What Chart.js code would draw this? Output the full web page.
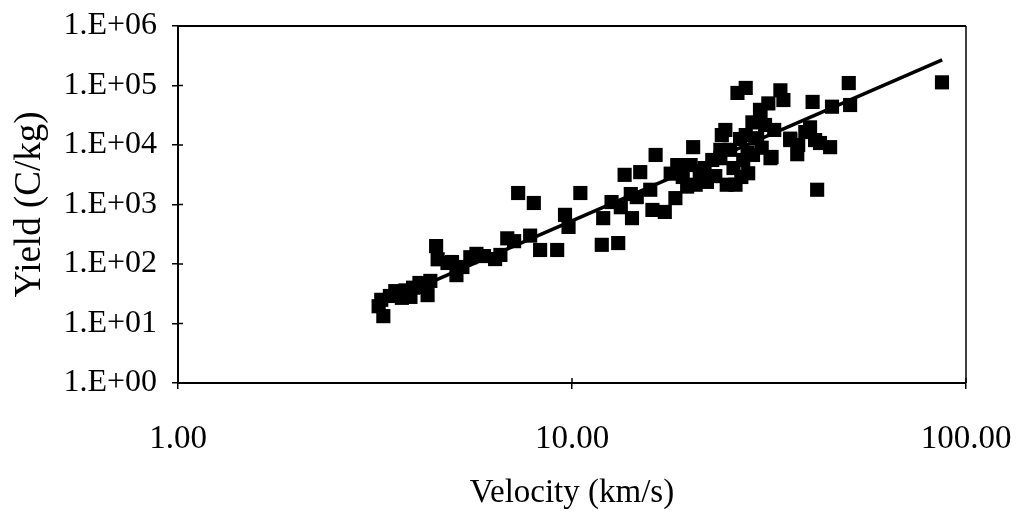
<!DOCTYPE html>
<html>
<head>
<meta charset="utf-8">
<script src="https://cdn.jsdelivr.net/npm/chart.js@4/dist/chart.umd.min.js"></script>
<style>
  html, body { margin: 0; padding: 0; background: #fff; }
  #wrap { width: 1016px; height: 517px; }
</style>
</head>
<body>
<div id="wrap"><canvas id="c" width="1016" height="517"></canvas></div>
<script>
// Impact velocity (km/s) and charge yield (C/kg) of the measured particles
const velocity = [
  3.23, 3.32, 3.28, 3.45, 3.56, 3.70, 3.78, 3.89, 3.95, 4.10,
  4.25, 4.30, 4.37, 4.52, 4.56, 4.83, 4.96, 5.09, 5.27, 5.52,
  5.72, 5.98, 6.38, 6.58, 7.13, 7.30, 7.83, 8.0, 8.30, 9.17,
  9.6, 9.8, 10.5, 11.9, 12.0, 12.6, 13.1, 13.6, 14.2, 14.1,
  14.9, 14.6, 15.8, 16.0, 16.3, 17.2, 17.8, 18.3, 18.8, 19.6,
  20.0, 20.3, 20.6, 21.1, 21.7, 22.0, 22.7, 23.1, 23.8, 24.0,
  24.5, 24.7, 25.2, 25.7, 26.0, 26.3, 26.7, 27.2, 27.6, 27.6,
  28.0, 28.7, 28.8, 29.5, 30.0, 30.3, 30.9, 31.5, 32.1, 32.6,
  33.8, 34.4, 35.8, 37.5, 39.1, 40.2, 40.8, 41.4, 41.9, 45.2,
  45.7, 50.4, 50.8, 86.9, 18.5, 19.1, 23.8, 27.9, 13.3, 6.85,
  26.9, 31.9, 37.3, 35.8, 30.1, 42.6
];
const yieldValues = [
  19.5, 13.3, 25, 29, 35, 27, 36, 28, 40, 48,
  41, 30, 52, 200, 120, 104, 108, 65, 89, 130,
  148, 136, 121, 142, 242, 1560, 300, 1060, 172, 172,
  670, 420, 1560, 210, 590, 1100, 225, 3150, 590, 1500,
  3500, 1330, 1770, 810, 6800, 750, 3300, 1280, 3500, 2000,
  4600, 9200, 2150, 3150, 4100, 2400, 5600, 3000, 6000, 14700,
  17900, 2150, 8300, 4100, 2150, 75000, 12600, 5600, 91000, 14700,
  3350, 24000, 6800, 13000, 39000, 9000, 21700, 50000, 6300, 17900,
  83000, 57000, 12100, 10000, 16500, 19800, 53000, 12100, 1770, 9200,
  44000, 110000, 47000, 113000, 4600, 2900, 8300, 7500, 900, 270,
  2900, 6000, 7000, 12800, 33000, 10800
];
// Power-law fit drawn as a straight line between its end points
const fitVelocity = [3.2, 87];
const fitYield = [20, 270000];

const xTicks = [1, 10, 100];
const yTicks = [1, 10, 100, 1000, 10000, 100000, 1000000];
const yTickLabels = ['1.E+00', '1.E+01', '1.E+02', '1.E+03', '1.E+04', '1.E+05', '1.E+06'];
const xTickLabels = ['1.00', '10.00', '100.00'];

const points = velocity.map((v, i) => ({ x: v, y: yieldValues[i] }));
const fitLine = fitVelocity.map((v, i) => ({ x: v, y: fitYield[i] }));

const serif = '"Liberation Serif", "Times New Roman", serif';

// Frame around the plot area plus the inward half of every tick mark
const framePlugin = {
  id: 'frame',
  afterDatasetsDraw(chart) {
    const { ctx, chartArea: a, scales } = chart;
    ctx.save();
    ctx.strokeStyle = '#000';
    ctx.lineWidth = 2;
    ctx.beginPath();
    ctx.moveTo(a.left, a.top);
    ctx.lineTo(a.right, a.top);
    ctx.stroke();
    ctx.lineWidth = 1.5;
    ctx.beginPath();
    ctx.moveTo(a.right, a.top);
    ctx.lineTo(a.right, a.bottom);
    ctx.stroke();
    ctx.lineWidth = 1.5;
    yTicks.forEach(v => {
      const py = scales.y.getPixelForValue(v);
      ctx.beginPath();
      ctx.moveTo(a.left, py);
      ctx.lineTo(a.left + 5, py);
      ctx.stroke();
    });
    xTicks.forEach(v => {
      const px = scales.x.getPixelForValue(v);
      ctx.beginPath();
      ctx.moveTo(px, a.bottom);
      ctx.lineTo(px, a.bottom - 5);
      ctx.stroke();
    });
    ctx.restore();
  }
};

new Chart(document.getElementById('c'), {
  type: 'scatter',
  data: {
    datasets: [
      {
        label: 'Fit',
        data: fitLine,
        showLine: true,
        borderColor: '#000',
        borderWidth: 3.5,
        pointRadius: 0,
        pointHoverRadius: 0,
        order: 0
      },
      {
        label: 'Yield',
        data: points,
        pointStyle: 'rect',
        pointRadius: 10,
        pointHoverRadius: 10,
        backgroundColor: '#000',
        borderColor: '#000',
        borderWidth: 0,
        order: 1
      }
    ]
  },
  options: {
    responsive: false,
    animation: false,
    events: [],
    layout: { padding: { top: 26, right: 50, left: 0, bottom: 0 } },
    plugins: { legend: { display: false }, tooltip: { enabled: false } },
    scales: {
      x: {
        type: 'logarithmic',
        min: 1,
        max: 100,
        afterBuildTicks(scale) { scale.ticks = xTicks.map(v => ({ value: v })); },
        afterFit(scale) { scale.height = 134; scale.paddingLeft = 0; scale.paddingRight = 0; },
        ticks: {
          autoSkip: false,
          maxRotation: 0,
          color: '#000',
          padding: 31,
          font: { family: serif, size: 33 },
          callback: (v) => { const i = xTicks.indexOf(v); return i >= 0 ? xTickLabels[i] : ''; }
        },
        grid: { drawOnChartArea: false, drawTicks: true, tickLength: 6, color: '#000', lineWidth: 1.5 },
        border: { display: true, color: '#000', width: 2 },
        title: {
          display: true,
          text: 'Velocity (km/s)',
          color: '#000',
          font: { family: serif, size: 33 },
          padding: { top: 0, bottom: 4 }
        }
      },
      y: {
        type: 'logarithmic',
        min: 1,
        max: 1000000,
        afterBuildTicks(scale) { scale.ticks = yTicks.map(v => ({ value: v })); },
        afterFit(scale) { scale.width = 178; scale.paddingTop = 0; scale.paddingBottom = 0; },
        ticks: {
          autoSkip: false,
          color: '#000',
          padding: 15,
          font: { family: serif, size: 32 },
          callback: (v) => { const i = yTicks.indexOf(v); return i >= 0 ? yTickLabels[i] : ''; }
        },
        grid: { drawOnChartArea: false, drawTicks: true, tickLength: 6, color: '#000', lineWidth: 1.5 },
        border: { display: true, color: '#000', width: 2 },
        title: {
          display: true,
          text: 'Yield (C/kg)',
          color: '#000',
          font: { family: serif, size: 37 },
          padding: { top: 8, bottom: 0 }
        }
      }
    }
  },
  plugins: [framePlugin]
});
</script>
</body>
</html>
